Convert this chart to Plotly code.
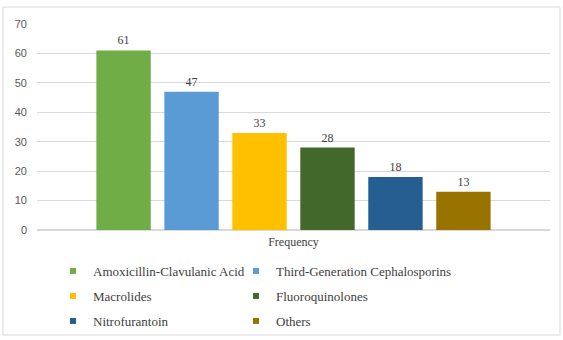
import plotly.graph_objects as go

# Antibiotic classes and how often each was prescribed
classes = [
    "Amoxicillin-Clavulanic Acid",
    "Third-Generation Cephalosporins",
    "Macrolides",
    "Fluoroquinolones",
    "Nitrofurantoin",
    "Others",
]
frequency = [61, 47, 33, 28, 18, 13]
category = ["Frequency"]
colors = ["#70AD47", "#5B9BD5", "#FFC000", "#43682B", "#255E91", "#997300"]
y_ticks = [0, 10, 20, 30, 40, 50, 60, 70]

serif = "Liberation Serif, Times New Roman, serif"

L, R, T, B = 37, 13, 24, 110
W, H = 563, 340
pw, ph = W - L - R, H - T - B


def py(pixel_y):
    """Pixel row from top of page -> paper y coordinate."""
    return (T + ph - pixel_y) / ph


def px(pixel_x):
    """Pixel column from left of page -> paper x coordinate."""
    return (pixel_x - L) / pw


fig = go.Figure()
for name, val, col in zip(classes, frequency, colors):
    fig.add_trace(go.Bar(
        name=name,
        x=category,
        y=[val],
        marker=dict(color=col, line=dict(width=0)),
        text=[str(val)],
        textposition="outside",
        cliponaxis=False,
        textfont=dict(family=serif, size=12, color="#404040"),
        showlegend=False,
    ))

# Legend: one small legend per entry, laid out as two columns by three rows
legend_cols = [53, 236]
legend_rows = [271, 296, 321]
legend_style = dict(
    orientation="v",
    xanchor="left",
    yanchor="middle",
    itemwidth=30,
    font=dict(family=serif, size=13, color="#404040"),
    bgcolor="rgba(0,0,0,0)",
)
legend_layout = {}
for i, (name, col) in enumerate(zip(classes, colors)):
    key = "legend" if i == 0 else f"legend{i + 1}"
    fig.add_trace(go.Scatter(
        name=name,
        x=[None], y=[None],
        mode="markers",
        marker=dict(symbol="square", size=6, color=col),
        legend=key,
        showlegend=True,
    ))
    legend_layout[key] = dict(
        legend_style,
        x=px(legend_cols[i % 2]),
        y=py(legend_rows[i // 2]),
    )
fig.update_layout(**legend_layout)

fig.update_layout(
    width=W, height=H,
    margin=dict(l=L, r=R, t=T, b=B, autoexpand=False),
    paper_bgcolor="white",
    plot_bgcolor="white",
    barmode="group",
    bargap=0.205,
    bargroupgap=0.2,
    xaxis=dict(
        showgrid=False,
        showline=False,
        ticks="",
        ticklabelstandoff=3,
        tickfont=dict(family=serif, size=12, color="#404040"),
    ),
    yaxis=dict(
        range=[0, 70],
        tickvals=y_ticks,
        showgrid=True,
        gridcolor="#D9D9D9",
        gridwidth=1,
        zeroline=True,
        zerolinecolor="#D9D9D9",
        showline=False,
        ticks="",
        ticklabelstandoff=9,
        tickfont=dict(family="Liberation Sans, Arial, sans-serif", size=11, color="#595959"),
    ),
    shapes=[dict(
        type="rect", xref="paper", yref="paper",
        x0=px(3), x1=px(560),
        y0=py(335), y1=py(7),
        line=dict(color="#D9D9D9", width=1),
        fillcolor="rgba(0,0,0,0)",
        layer="below",
    )],
)

fig.write_html("out.html")
